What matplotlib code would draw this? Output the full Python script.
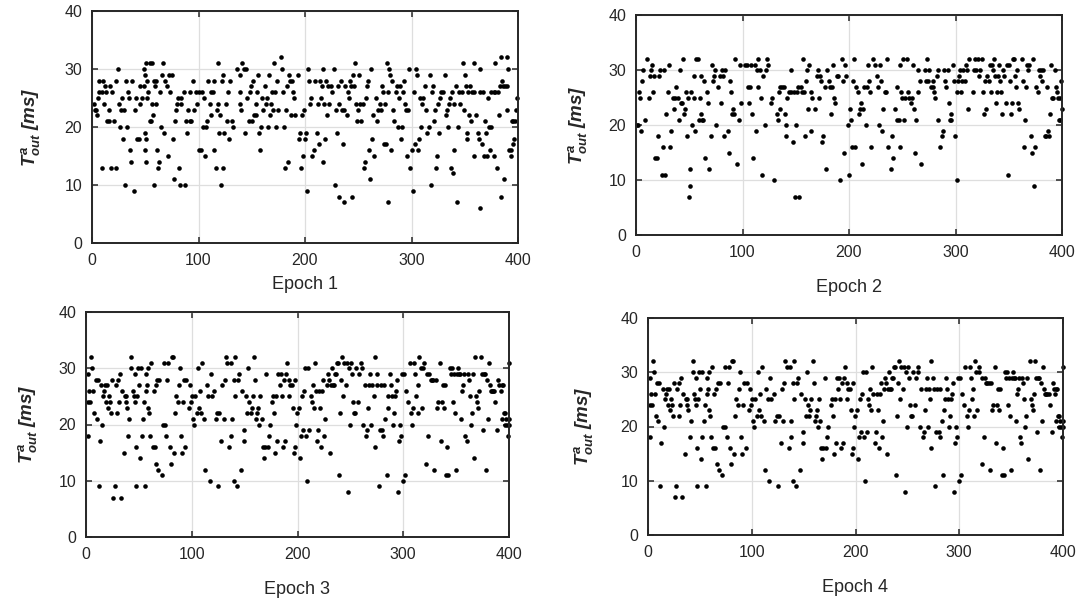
import numpy as np
import matplotlib
matplotlib.use("Agg")
import matplotlib.pyplot as plt

# --- Measured output delay per sample (x = sample index, y = delay in ms) ---
epoch1 = [
    (2,24),(2.5,23),(4,23),(5,22),(6,25),(7,26),(7,28),(9,26),(9,13),(10,28),(11,24),(12,27),(13,26),(14,21),
    (16,21),(16,23),(17,27),(18,13),(19,26),(21,21),(23,13),(23,28),(24,30),(25,24),(26,20),(27,23),(28,25),
    (29,18),(30,23),(31,10),(32,28),(33,20),(34,26),(35,25),(36,16),(37,14),(38,28),(39,9),(40,23),(41,25),
    (42,18),(44,18),(45,24),(45,27),(47,25),(49,27),(49,30),(50,29),(50,19),(50,16),(51,14),(51,18),(51,31),
    (52,25),(52,28),(53,26),(54,21),(54,31),(55,21),(56,24),(56,31),(57,22),(58,28),(58,10),(59,27),(60,24),
    (60,28),(61,16),(62,13),(63,14),(64,26),(65,20),(66,29),(67,31),(68,19),(69,28),(70,27),(71,15),(72,29),
    (73,26),(75,29),(76,18),(77,11),(78,21),(79,23),(80,24),(81,25),(82,13),(83,10),(84,24),(84,25),(86,26),
    (87,10),(88,21),(89,19),(90,23),(92,26),(92,21),(93,21),(95,28),(96,23),(98,26),(99,24),(100,16),(100,26),
    (102,16),(103,26),(104,20),(105,25),(106,15),(107,20),(108,21),(109,28),(111,24),(112,26),(112,22),(114,26),
    (115,16),(115,28),(116,13),(117,23),(118,31),(118,24),(119,19),(120,22),(121,10),(122,28),(123,29),(123,13),
    (124,19),(126,24),(127,21),(128,26),(129,18),(130,28),(131,21),(132,20),
    (136,30),(139,29),(139,24),(139,26),(140,23),(141,31),(143,30),(144,19),(145,30),(146,25),(147,21),(148,26),
    (149,27),(150,21),(151,28),(152,22),(154,22),(154,24),(155,26),(156,29),(157,19),(158,16),(159,20),(160,25),
    (161,23),(162,27),(163,24),(164,25),(165,20),(166,29),(167,22),(168,24),(169,26),(170,23),(171,31),(172,26),
    (173,20),(174,28),(175,23),(177,32),(178,30),(179,26),(180,20),(181,13),(182,23),(183,27),(184,14),(185,29),
    (186,28),(187,22),(188,28),(189,26),(190,25),(191,22),(193,29),(194,18),(195,19),(196,13),(197,22),(198,15),
    (199,23),(200,18),(201,19),(202,9),(203,30),(204,28),(205,24),(206,25),(207,15),(208,16),(209,28),(211,19),
    (212,24),(213,17),(214,28),(215,25),(216,27),(217,30),(217,14),(218,24),(219,18),(220,28),(221,22),(222,27),
    (223,24),(224,27),(225,26),(227,30),(228,10),(229,23),(230,19),(231,27),(232,24),(232,8),(234,28),(235,23),
    (236,17),(237,23),(237,7),(238,27),(239,22),(240,26),(241,25),(242,28),(243,27),(244,8),(245,29),(246,27),
    (247,31),(248,24),(249,21),(250,23),(251,29),(252,24),(253,21),(254,24),(255,13),(256,14),(257,25),(258,27),
    (259,28),(260,16),(261,11),(262,30),(263,18),(264,22),(265,15),
    (267,25),(268,21),(269,23),(270,24),(271,23),(272,27),(273,26),(274,17),(275,24),(276,17),(277,31),(278,7),
    (278,26),(279,30),(280,29),(281,16),(282,28),(283,23),(284,21),(285,26),(286,27),(287,20),(288,25),(289,27),
    (290,18),(291,20),(292,26),(293,28),(294,24),(295,23),(296,15),(297,23),(298,30),(299,13),(300,16),(301,9),
    (302,26),(303,17),(304,30),(305,29),(306,16),(307,18),(308,25),(309,20),(310,24),(311,25),(313,27),(314,23),
    (315,19),(316,20),(317,29),(318,10),(319,26),(320,27),(321,21),(322,23),(323,13),(324,15),(325,24),(326,19),
    (327,25),(328,26),(330,26),(331,29),(332,22),(333,23),(334,20),(335,24),(336,25),(337,13),(338,26),(339,12),
    (340,24),(340,16),(342,27),(343,7),(344,20),(345,26),(346,24),(347,26),(348,31),(349,23),(350,29),(351,27),
    (352,19),(352,18),(353,26),(354,22),(355,27),(356,21),(357,26),(359,26),(359,31),(359,15),(361,22),(362,19),
    (363,18),(364,26),(364,30),(364,6),(366,17),(367,26),(368,15),(369,21),(370,19),(371,15),(372,25),(373,20),
    (374,16),(375,20),(375,26),(377,26),(377,15),(378,31),(378,26),(380,13),(381,26),(382,22),(383,27),(384,8),
    (384,32),(385,28),(386,27),(387,11),(388,27),(390,27),(390,32),(390,23),(391,30),(392,16),(393,15),(393,16),
    (394,21),(395,17),(395,21),(396,18),(397,21),(398,23),(399,25),
]

epoch2 = [
    (1,20),(2,20),(2.5,26),(4,25),(5,19),(6,28),(7,30),(8,21),(10,32),(12,25),(13,29),(14,30),(15,31),(16,26),
    (17,29),(18,14),(19.5,14),(21,18),(22,29),(23,30),(24,11),(25,16),(26,30),(27,11),(28,22),(30,26),(31,31),
    (32,16),(33,19),(35,25),(36,23),(37,25),(38,27),(39,25),(40,21),(41,30),(42,24),(43,24),(44,32),(45,22),
    (46,23),(47,26),(48,18),(49,25),(50,7),(51,9),(51,12),(52,26),(53,20),(54,29),(54,25),(55,19),(56,32),
    (58,32),(59,21),(60,25),(61,29),(61,22),(62,21),(63,21),(64,28),(65,14),(67,26),(68,24),(69,12),(70,18),
    (71,31),(72,28),(73,29),(74,30),(75,20),(77,27),(79,29),(80,24),(81,30),(82,29),(83,18),(84,30),(86,19),
    (87,15),(88,28),(89,26),(90,22),(91,23),(92,22),(93,32),(95,13),(97,21),(98,31),(99,24),(102,31),(104,31),
    (105,27),(106,24),(107,27),(108,31),(109,22),(110,14),(112,31),(113,19),(114,30),(114.5,27),(115,32),
    (116,30),(117,25),(118,11),(119,29),(121,20),(122,30),(123,32),(124,31),(127,24),(128,25),(130,10),
    (132,22),(133,21),(134,26),(135,27),(135.5,23),(137,27),(139,27),(140,22),(140.5,18),(141,20),(142,25),
    (144,26),(145.5,30),(146,26),(147,17),(148,26),(149,7),(150.5,20),(151,26),(152.5,27),(153.5,7),(154.5,27),
    (156,26),(157,32),(158,26),(159,18),(160,28),(160.5,30),(161.5,23),(162.5,31),(164,26),(164.5,19),
    (165.5,25),(168,23),(170,29),(170.5,30),(172,25),(173,29),(174,28),(175,17),(176,18),(177,27),(178,12),
    (179,30),(181,28),(182,27),(183,22),(184,27),(185,31),(186,25),(187,24),(189,29),(190,29),(192,10),
    (193,32),(194,28),(195,15),(196,31),(197,29),(199,20),(200,11),(201,23),(202,21),(203,16),(204,28),
    (205,32),(206,16),(207,27),(208,26),(209,22),(210,23),(211,24),(212,13),(213,23),(214,27),(216,20),
    (217,27),(218,31),(219,28),(220,26),(221,16),(223,32),(224,31),(226,29),(227,27),(228,20),(229,31),
    (230,28),(231,19),(232,23),(234,26),(235,26),(236,32),(237,16),(239,12),(240,18),(241,14),(243,23),
    (245,21),(245.5,27),(246.5,21),(247.5,31),(248,16),(249,26),(250,25),(251,32),(252,21),(253,25),(254,32),
    (255,26),(256.5,25),(258,24),(259.5,25),(260,31),(261,23),(262,15),
    (263,21),(264.5,30),(265,26),(266.5,28),(268,13),(271,30),(272,28),(273,32),(274,28),(275,30),(277,27),
    (278.5,27),(279,28),(280,26),(281,25),(282.5,29),(283.5,21),(284,30),(285.5,16),(287,18),(288,19),
    (289,30),(290,28),(291,27),(292.5,30),(293.5,24),(294.5,21),(295.5,21),(296,22),(297.5,31),(298.5,28),
    (299.5,18),(301,26),(301.5,10),(302,28),(303,29),(304.5,30),(305.5,26),(306.5,28),(307.5,30),(308.5,28),
    (310,31),(311,30),(312,23),(313,32),(316,26),(317,30),(318,32),(319.5,30),(321,32),(322,29),(323,30),
    (325,32),(326,26),(327,22),(328,28),(329,23),(330,29),(331,28),(332,31),(333,26),(334,31),(335,30),
    (336,32),(337,29),(338,24),(339,26),(340,29),(341,31),(342,28),(343,26),(344,22),(345,30),(346,29),
    (347,24),(348,31),(349,11),(350,31),(351,28),(352,22),(353,24),(354,32),(355,32),(356,29),(357,27),
    (358,30),(359,24),(360,23),(362,32),(363,28),(364,16),(365,21),(366,27),(367,31),(368,30),(369,31),
    (371,18),(372,15),(373,32),(374,9),(375,16),(376,27),(377,26),(378,30),(379,29),(380,30),(381,28),
    (382.5,30),(384,18),(385,18),(386,27),(387,19),(388,18),(389,22),(390,31),(391,25),(392,25),(393,30),
    (394,27),(395,26),(396,25),(397,21),(398,21),(398,25),(399,28),(400,23),
]

epoch3 = [
    (1.5,18),(2,29),(2,24),(3,26),(4,24),(5,32),(6,30),(7,26),(8,22),(9,28),(10,21),(11,28),(12,9),(13,17),
    (14,27),(15,20),(16,25),(17,26),(18,27),(19,24),(20,27),(21,23),(22,25),(23,24),(24,22),(25,28),(26,7),
    (27,9),(28,27),(29.5,22),(30,28),(31,24),(32,29),(33,7),(34,26),(35.5,15),(36.5,25),(37.5,25),(38,24),
    (39,23),(40,18),(41,21),(43,32),(43,30),(44,26),(45,25),(46,29),(46.5,24),(47.5,16),(47.5,9),(48.5,25),
    (49.5,30),(50.5,27),(51.5,14),(52,30),(52.5,18),(53.5,21),(54.5,24),(55.5,9),(56.5,29),(57,26),(58,27),
    (59,30),(59,23),(60,22),(60.5,18),(61.5,31),(63,16),(64,26),(65,16),(66,27),(66.5,13),(67.5,28),(68.5,12),
    (69.5,28),(71.5,11),(72.5,20),(74,31),(74.5,20),(76,18),(77,28),(78,31),(79,16),(80,13),(81,32),(82,32),
    (83,15),(84,22),(85,25),(87,24),(88,27),(89,30),(90,18),(91,15),(92,24),(93,28),(94,16),(95,28),(97,23),
    (98,27),(99,24),(100,25),(101,21),(102,20),(103.5,25),(105,22),(106,30),(107,23),(108,26),(109,22),
    (110,31),(112,21),(113,12),(114,27),(115.5,25),(117,10),(118,29),(119,25),(121,26),(122.5,21),(124,22),
    (125,9),(126,22),(128,17),(129,27),(130.5,21),(131,28),(132,32),(133.5,31),(135.5,16),(137,31),(137.5,18),
    (138,21),(140,10),(140,28),(141,25),(141,32),
    (142.6,9),(144,28),(145,29),(146.7,12),(147.7,26),(149,17),(149.5,19),(151,25),(152.5,22),(153.5,30),
    (154.5,24),(155.6,22),(156.6,23),(157.5,25),(159,32),(160,28),(160.7,21),(161.7,22),(162.6,23),(163.6,20),
    (165,25),(166,21),(167,16),(168,14),(169,16),(170.5,29),(172,16),(173,18),(173.7,20),(176,24),(177,25),
    (178,22),(179,15),(180,25),(181,17),(182,29),(183,27),(184,29),(185,25),(186,16),(187,28),(188,17),
    (189,29),(190,31),(191.5,28),(192,25),(193,27),(194.5,27),(195.3,23),(196.3,15),(197.2,28),(198,16),
    (199,20),(199.8,22),(201,23),(202,14),(203.2,18),(204,25),(205,19),(206,26),(207,30),(208,18),(209,10),
    (210,30),(211,19),(212.5,25),(213.4,24),(214.4,27),(215.3,23),(216.3,31),(217.2,26),(218.5,17),(219.4,19),
    (220.4,26),(221.3,23),(222.3,16),(223.2,26),(224.5,28),(225.5,18),(226.4,21),(227.7,27),(228.6,29),
    (229.6,28),(230.5,15),(231.5,27),(232.5,30),(233.4,27),(234.4,27),(235.3,29),(236.6,29),(237.5,31),
    (238.5,31),(239.4,11),(240.4,22),(241.3,28),(242.3,32),(243.2,25),(244.2,31),(245.5,27),(246.7,31),
    (247.7,8),(248.6,30),(249.6,20),(250.5,31),(251.5,29),(252.5,24),(253.4,22),(254.7,22),(255.6,30),
    (256.9,24),(258.5,29),(259.8,31),(260.7,30),(262.3,20),(263.6,27),(264.8,18),(265.8,19),(266.7,23),
    (268,27),(269,29),(269.6,20),(270.5,27),(272,25),(273,32),(273,16),
    (274.8,29),(275.4,27),(277,9),(278,19),(279,27),(280,19),(281,18),(281.8,27),(283,21),(284.3,11),
    (285.3,23),(286,25),(287,29),(288,27),(289.4,25),(290.3,20),(291.3,22),(292.3,25),(293.2,26),(294.2,28),
    (295,8),(296,17),(297,20),(298,18),(299,29),(299.9,10),(301,29),(302,11),(303,26),(304.6,24),(306,31),
    (307,22),(308.4,20),(309.4,23),(310.3,31),(311.3,29),(312.3,25),(313.5,27),(314,22),(315,32),(316.4,30),
    (317.3,23),(318.6,30),(319.5,31),(321.5,13),(322.4,29),(323.7,18),(324.6,29),(326,28),(327,28),(328.4,28),
    (329.4,12),(330.7,28),(331.6,23),(332.6,24),(334.5,31),(335.7,17),(336.7,24),(337.7,27),(338.6,23),
    (339.6,27),(340.8,11),(341.8,16),(342.7,11),(344,30),(345,29),(345.9,30),(346.9,24),(347.8,29),(348.8,22),
    (349.7,12),(350.7,29),(351.6,30),(352.6,29),(353.5,29),(354.8,21),(355.7,26),(356.7,27),(357.7,29),
    (358.6,18),(359.9,17),(360.8,29),(361.8,28),(362.7,25),(363.7,20),(364.6,22),(365.6,29),(366.5,14),
    (367.8,32),(368.8,25),(369.7,24),(370.7,23),(372,26),(373.2,32),(374.2,29),(375,19),(376,29),(377,29),
    (378,12),(379,28),(380,21),(381,31),(382,27),(383,26),(384,26),(385,26),(386.2,26),(387.2,24),(389,19),
    (390,28),(391,27),(392,26),(393,27),(393.5,21),(394,27),(395,22),(396,22),(396.4,20),(397.3,21),
    (398.3,20),(399,18),(399.9,21),(400,20),(400,31),
]

# epoch 4 repeats the epoch 3 trace
epoch4 = list(epoch3)

x_ticks = [0, 100, 200, 300, 400]
y_ticks = [0, 10, 20, 30, 40]
epoch_labels = ["Epoch 1", "Epoch 2", "Epoch 3", "Epoch 4"]
y_label = r"$T^a_{out}$ [ms]"

plt.rcParams["font.family"] = "Liberation Sans"
plt.rcParams["mathtext.fontset"] = "custom"
plt.rcParams["mathtext.it"] = "Liberation Sans:italic:bold"
plt.rcParams["mathtext.rm"] = "Liberation Sans:bold"

W, H = 1083, 606
fig = plt.figure(figsize=(W / 100, H / 100), dpi=100)


def box(left, right, top, bottom):
    # pixel box -> figure fraction
    return [left / W, 1 - bottom / H, (right - left) / W, (bottom - top) / H]


layout = [
    (epoch1, box(92, 518, 11, 243), 6, 16),
    (epoch2, box(636, 1062, 15, 235), 14, 14),
    (epoch3, box(86, 509, 312, 537), 14, 14),
    (epoch4, box(648, 1063, 318, 535), 14, 18),
]

for (pts, rect, xpad, ypad), label in zip(layout, epoch_labels):
    x, y = np.array(pts, dtype=float).T
    ax = fig.add_axes(rect)
    ax.plot(x, y, "o", ms=3.3, color="black", mew=0, clip_on=False)
    ax.set_xlim(0, 400)
    ax.set_ylim(0, 40)
    ax.set_xticks(x_ticks)
    ax.set_yticks(y_ticks)
    ax.grid(True, color="#dedede", lw=0.9)
    ax.set_axisbelow(True)
    ax.tick_params(direction="in", top=True, right=True, length=4, width=1.1,
                   color="#262626", labelsize=11.5, pad=7, labelcolor="#262626")
    for sp in ax.spines.values():
        sp.set_linewidth(1.4)
        sp.set_color("#262626")
    ax.set_xlabel(label, fontsize=13, labelpad=xpad, color="#262626")
    ax.set_ylabel(y_label, fontsize=13.5, fontweight="bold", fontstyle="italic",
                  labelpad=ypad, color="#262626")

fig.savefig("out.png", dpi=100)
